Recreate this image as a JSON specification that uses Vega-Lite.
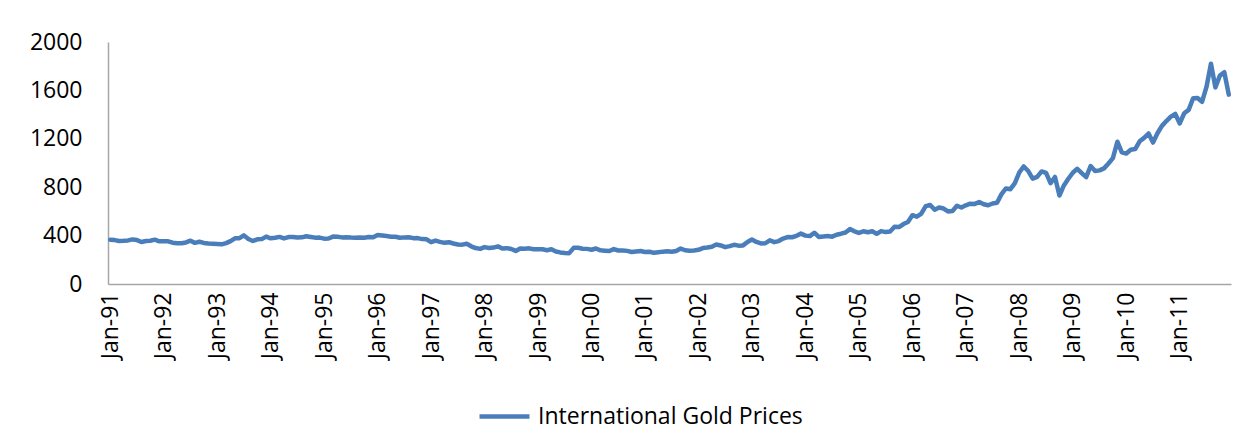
{
  "$schema": "https://vega.github.io/schema/vega-lite/v6.json",
  "width": 1123,
  "height": 242,
  "autosize": {"type": "none"},
  "padding": {"left": 108, "top": 42, "right": 27, "bottom": 161},
  "background": "white",
  "config": {
    "view": {"stroke": null},
    "font": "Open Sans",
    "axis": {"labelFont": "Open Sans", "labelColor": "#000000"},
    "legend": {"labelFont": "Open Sans"}
  },
  "data": {
    "values": [
      {"m":"Jan-91","v":366},{"m":"Feb-91","v":362.7},{"m":"Mar-91","v":355.7},{"m":"Apr-91","v":357.5},{"m":"May-91","v":360.4},{"m":"Jun-91","v":368.4},{"m":"Jul-91","v":362.9},{"m":"Aug-91","v":347.4},{"m":"Sep-91","v":354.9},{"m":"Oct-91","v":357.5},{"m":"Nov-91","v":366.3},{"m":"Dec-91","v":353.2},
      {"m":"Jan-92","v":354.1},{"m":"Feb-92","v":353.1},{"m":"Mar-92","v":341.7},{"m":"Apr-92","v":336.4},{"m":"May-92","v":337.5},{"m":"Jun-92","v":343.4},{"m":"Jul-92","v":357.9},{"m":"Aug-92","v":340},{"m":"Sep-92","v":349},{"m":"Oct-92","v":339.3},{"m":"Nov-92","v":334.2},{"m":"Dec-92","v":333.3},
      {"m":"Jan-93","v":330.5},{"m":"Feb-93","v":327.6},{"m":"Mar-93","v":337.8},{"m":"Apr-93","v":354.3},{"m":"May-93","v":377.5},{"m":"Jun-93","v":378.5},{"m":"Jul-93","v":401.8},{"m":"Aug-93","v":371.6},{"m":"Sep-93","v":355.5},{"m":"Oct-93","v":369.6},{"m":"Nov-93","v":370.9},{"m":"Dec-93","v":391.8},
      {"m":"Jan-94","v":377.9},{"m":"Feb-94","v":381.6},{"m":"Mar-94","v":389.2},{"m":"Apr-94","v":376.5},{"m":"May-94","v":387.6},{"m":"Jun-94","v":388.3},{"m":"Jul-94","v":384},{"m":"Aug-94","v":385.8},{"m":"Sep-94","v":394.9},{"m":"Oct-94","v":389.1},{"m":"Nov-94","v":383.1},{"m":"Dec-94","v":383.3},
      {"m":"Jan-95","v":374.9},{"m":"Feb-95","v":376.4},{"m":"Mar-95","v":392},{"m":"Apr-95","v":389.8},{"m":"May-95","v":385.3},{"m":"Jun-95","v":387.1},{"m":"Jul-95","v":383.4},{"m":"Aug-95","v":382.4},{"m":"Sep-95","v":384},{"m":"Oct-95","v":382.7},{"m":"Nov-95","v":387.8},{"m":"Dec-95","v":387},
      {"m":"Jan-96","v":405.6},{"m":"Feb-96","v":400.7},{"m":"Mar-96","v":396.3},{"m":"Apr-96","v":391.3},{"m":"May-96","v":390.6},{"m":"Jun-96","v":382},{"m":"Jul-96","v":385.3},{"m":"Aug-96","v":386.5},{"m":"Sep-96","v":379},{"m":"Oct-96","v":379.5},{"m":"Nov-96","v":371.3},{"m":"Dec-96","v":369.3},
      {"m":"Jan-97","v":345.5},{"m":"Feb-97","v":358.6},{"m":"Mar-97","v":348.2},{"m":"Apr-97","v":340.2},{"m":"May-97","v":345.6},{"m":"Jun-97","v":334.6},{"m":"Jul-97","v":326.4},{"m":"Aug-97","v":325.4},{"m":"Sep-97","v":332.1},{"m":"Oct-97","v":311.4},{"m":"Nov-97","v":296.8},{"m":"Dec-97","v":290.2},
      {"m":"Jan-98","v":304.9},{"m":"Feb-98","v":297.4},{"m":"Mar-98","v":301},{"m":"Apr-98","v":310.7},{"m":"May-98","v":293.6},{"m":"Jun-98","v":296.3},{"m":"Jul-98","v":288.9},{"m":"Aug-98","v":273.4},{"m":"Sep-98","v":293.9},{"m":"Oct-98","v":292.3},{"m":"Nov-98","v":294.7},{"m":"Dec-98","v":287.8},
      {"m":"Jan-99","v":287.1},{"m":"Feb-99","v":287.3},{"m":"Mar-99","v":279.5},{"m":"Apr-99","v":286.6},{"m":"May-99","v":268.6},{"m":"Jun-99","v":261},{"m":"Jul-99","v":255.6},{"m":"Aug-99","v":254.8},{"m":"Sep-99","v":299},{"m":"Oct-99","v":299.1},{"m":"Nov-99","v":291.4},{"m":"Dec-99","v":290.3},
      {"m":"Jan-00","v":283.3},{"m":"Feb-00","v":293.7},{"m":"Mar-00","v":278.4},{"m":"Apr-00","v":275.1},{"m":"May-00","v":272.3},{"m":"Jun-00","v":288.2},{"m":"Jul-00","v":276.8},{"m":"Aug-00","v":277},{"m":"Sep-00","v":273.7},{"m":"Oct-00","v":264.5},{"m":"Nov-00","v":269.1},{"m":"Dec-00","v":272.7},
      {"m":"Jan-01","v":264.5},{"m":"Feb-01","v":266.7},{"m":"Mar-01","v":257.7},{"m":"Apr-01","v":263.2},{"m":"May-01","v":267.5},{"m":"Jun-01","v":270.6},{"m":"Jul-01","v":265.9},{"m":"Aug-01","v":273},{"m":"Sep-01","v":293.1},{"m":"Oct-01","v":278.8},{"m":"Nov-01","v":275.5},{"m":"Dec-01","v":276.5},
      {"m":"Jan-02","v":282.3},{"m":"Feb-02","v":296.9},{"m":"Mar-02","v":301.4},{"m":"Apr-02","v":308.2},{"m":"May-02","v":326.6},{"m":"Jun-02","v":318.5},{"m":"Jul-02","v":304.7},{"m":"Aug-02","v":312.8},{"m":"Sep-02","v":323.7},{"m":"Oct-02","v":316.9},{"m":"Nov-02","v":319.1},{"m":"Dec-02","v":347.2},
      {"m":"Jan-03","v":367.5},{"m":"Feb-03","v":347.5},{"m":"Mar-03","v":334.9},{"m":"Apr-03","v":336.8},{"m":"May-03","v":361.4},{"m":"Jun-03","v":346},{"m":"Jul-03","v":354.8},{"m":"Aug-03","v":375.6},{"m":"Sep-03","v":388},{"m":"Oct-03","v":386.3},{"m":"Nov-03","v":398.4},{"m":"Dec-03","v":416.3},
      {"m":"Jan-04","v":399.8},{"m":"Feb-04","v":395.9},{"m":"Mar-04","v":423.7},{"m":"Apr-04","v":388.5},{"m":"May-04","v":393.3},{"m":"Jun-04","v":395.8},{"m":"Jul-04","v":391.4},{"m":"Aug-04","v":407.3},{"m":"Sep-04","v":415.7},{"m":"Oct-04","v":425.6},{"m":"Nov-04","v":453.4},{"m":"Dec-04","v":435.6},
      {"m":"Jan-05","v":422.2},{"m":"Feb-05","v":435.5},{"m":"Mar-05","v":427.5},{"m":"Apr-05","v":435.7},{"m":"May-05","v":414.5},{"m":"Jun-05","v":437.1},{"m":"Jul-05","v":429},{"m":"Aug-05","v":433.3},{"m":"Sep-05","v":473.3},{"m":"Oct-05","v":470.8},{"m":"Nov-05","v":495.7},{"m":"Dec-05","v":513},
      {"m":"Jan-06","v":568.8},{"m":"Feb-06","v":556},{"m":"Mar-06","v":582},{"m":"Apr-06","v":644},{"m":"May-06","v":653},{"m":"Jun-06","v":613.5},{"m":"Jul-06","v":632.5},{"m":"Aug-06","v":623.5},{"m":"Sep-06","v":599.3},{"m":"Oct-06","v":603.8},{"m":"Nov-06","v":646.7},{"m":"Dec-06","v":632},
      {"m":"Jan-07","v":650.5},{"m":"Feb-07","v":664.2},{"m":"Mar-07","v":661.8},{"m":"Apr-07","v":677},{"m":"May-07","v":659.1},{"m":"Jun-07","v":650.5},{"m":"Jul-07","v":665.5},{"m":"Aug-07","v":672},{"m":"Sep-07","v":743},{"m":"Oct-07","v":789.5},{"m":"Nov-07","v":783.5},{"m":"Dec-07","v":833.8},
      {"m":"Jan-08","v":923.3},{"m":"Feb-08","v":971.5},{"m":"Mar-08","v":933.5},{"m":"Apr-08","v":871},{"m":"May-08","v":885.8},{"m":"Jun-08","v":930.3},{"m":"Jul-08","v":918},{"m":"Aug-08","v":833},{"m":"Sep-08","v":884.5},{"m":"Oct-08","v":730.8},{"m":"Nov-08","v":814.5},{"m":"Dec-08","v":869.8},
      {"m":"Jan-09","v":919.5},{"m":"Feb-09","v":952},{"m":"Mar-09","v":916.5},{"m":"Apr-09","v":883.3},{"m":"May-09","v":975.5},{"m":"Jun-09","v":934.5},{"m":"Jul-09","v":939},{"m":"Aug-09","v":955.5},{"m":"Sep-09","v":995.8},{"m":"Oct-09","v":1040},{"m":"Nov-09","v":1175.8},{"m":"Dec-09","v":1087.5},
      {"m":"Jan-10","v":1078.5},{"m":"Feb-10","v":1109.5},{"m":"Mar-10","v":1115.5},{"m":"Apr-10","v":1179.3},{"m":"May-10","v":1207.5},{"m":"Jun-10","v":1244},{"m":"Jul-10","v":1169},{"m":"Aug-10","v":1246},{"m":"Sep-10","v":1307},{"m":"Oct-10","v":1346.8},{"m":"Nov-10","v":1383.5},{"m":"Dec-10","v":1405.5},
      {"m":"Jan-11","v":1327},{"m":"Feb-11","v":1411},{"m":"Mar-11","v":1439},{"m":"Apr-11","v":1535.5},{"m":"May-11","v":1536.5},{"m":"Jun-11","v":1505.5},{"m":"Jul-11","v":1628.5},{"m":"Aug-11","v":1820},{"m":"Sep-11","v":1625},{"m":"Oct-11","v":1722},{"m":"Nov-11","v":1750},{"m":"Dec-11","v":1565}
    ]
  },
  "mark": {"type": "line", "strokeWidth": 4.5, "strokeJoin": "round", "strokeCap": "round"},
  "encoding": {
    "x": {
      "field": "m",
      "type": "ordinal",
      "sort": null,
      "scale": {"type": "point", "padding": 0.5},
      "axis": {
        "title": null,
        "labelAngle": -90,
        "labelAlign": "right",
        "labelBaseline": "middle",
        "labelFontSize": 23,
        "labelPadding": 8,
        "labelOverlap": false,
        "labelExpr": "indexof(datum.value, 'Jan') === 0 ? datum.value : ''",
        "ticks": false,
        "domainColor": "#a6a6a6",
        "domainWidth": 1.5,
        "grid": false
      }
    },
    "y": {
      "field": "v",
      "type": "quantitative",
      "scale": {"domain": [0, 2000], "nice": false},
      "axis": {
        "title": null,
        "values": [0, 400, 800, 1200, 1600, 2000],
        "format": "d",
        "labelFontSize": 23,
        "labelPadding": 26,
        "ticks": false,
        "grid": false,
        "domainColor": "#a6a6a6",
        "domainWidth": 1.5
      }
    },
    "color": {
      "datum": "International Gold Prices",
      "type": "nominal",
      "scale": {"range": ["#4a7ebb"]},
      "legend": {
        "title": null,
        "orient": "none",
        "legendX": 369,
        "legendY": 347,
        "symbolType": "stroke",
        "symbolSize": 2500,
        "symbolStrokeWidth": 4.5,
        "labelFontSize": 23,
        "labelLimit": 0,
        "labelColor": "#000000",
        "labelOffset": 6
      }
    }
  }
}
